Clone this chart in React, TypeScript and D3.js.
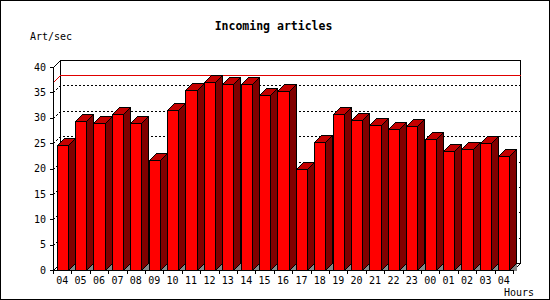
import React from "react";
import * as d3 from "d3";

const hours = ["04","05","06","07","08","09","10","11","12","13","14","15","16","17","18","19","20","21","22","23","00","01","02","03","04"];
const values = [24.6, 29.3, 28.9, 30.7, 28.9, 21.6, 31.5, 35.4, 37.0, 36.6, 36.6, 34.5, 35.2, 20.0, 25.2, 30.7, 29.5, 28.5, 27.7, 28.3, 25.9, 23.5, 23.8, 25.0, 22.5];
const yTicks = [0, 5, 10, 15, 20, 25, 30, 35, 40];
const gridValues = [5, 10, 15, 20, 25, 30, 35];
const title = "Incoming articles";
const yTitle = "Art/sec";
const xTitle = "Hours";

const W = 550, H = 300;
const L = 53, R = 513, B = 270, T = 67, D = 7;
const FONT = "'DejaVu Sans Mono', monospace";

export default function App() {
  const idx = hours.map((_, i) => i);
  const x = d3.scaleBand<number>().domain(idx).range([L, R]).padding(0);
  const y = d3.scaleLinear().domain([0, 40]).range([B, T]);
  const step = x.step();
  const p = (v: number) => Math.round(v) + 0.5;
  const maxV = d3.max(values) as number;

  const bars = values.map((v, i) => {
    const x0 = p(x(i)! + step * 0.2);
    const x1 = p(x(i)! + step * 0.8);
    const yt = p(y(v));
    const yb = p(B);
    const front = `${x0},${yt} ${x1},${yt} ${x1},${yb} ${x0},${yb}`;
    const top = `${x0},${yt} ${x0 + D},${yt - D} ${x1 + D},${yt - D} ${x1},${yt}`;
    const side = `${x1},${yt} ${x1 + D},${yt - D} ${x1 + D},${yb - D} ${x1},${yb}`;
    const shadow = `${x1},${yb} ${x1 + D},${yb - D} ${x1 + D},${yb}`;
    return { front, top, side, shadow, key: i };
  });

  return (
    <svg width={W} height={H} style={{ position: "absolute", left: 0, top: 0, background: "#fff" }} fontFamily={FONT}>
      <rect x={0.5} y={0.5} width={549} height={299} fill="#fff" stroke="#000" />
      <text x={273.5} y={30} textAnchor="middle" fontSize={11.5} fontWeight="bold">{title}</text>
      <text x={30} y={40} fontSize={10}>{yTitle}</text>

      {/* back plane */}
      <g shapeRendering="crispEdges" fill="none" stroke="#000">
        <rect x={p(L + D)} y={p(T - D)} width={R - L} height={B - T} fill="#fff" />
      </g>
      {/* grid */}
      <g fill="none" stroke="#000" strokeDasharray="2,2" shapeRendering="crispEdges">
        {gridValues.map(g => (
          <polyline key={g} points={`${p(L)},${p(y(g))} ${p(L + D)},${p(y(g) - D)} ${p(R + D)},${p(y(g) - D)}`} />
        ))}
      </g>
      {/* max line */}
      <polyline points={`${p(L)},${p(y(maxV))} ${p(L + D)},${p(y(maxV) - D)} ${p(R + D)},${p(y(maxV) - D)}`} fill="none" stroke="#e00000" shapeRendering="crispEdges" />
      {/* side/floor edges */}
      <g fill="none" stroke="#000" shapeRendering="crispEdges">
        <line x1={p(L)} y1={p(T)} x2={p(L + D)} y2={p(T - D)} />
        <line x1={p(L)} y1={p(B)} x2={p(L + D)} y2={p(B - D)} />
        <line x1={p(R)} y1={p(B)} x2={p(R + D)} y2={p(B - D)} />
      </g>

      {/* bars */}
      <g stroke="#000" strokeWidth={1} shapeRendering="crispEdges">
        {bars.map(b => (
          <g key={b.key}>
            <polygon points={b.shadow} fill="#888888" stroke="none" />
            <polygon points={b.side} fill="#800000" />
            <polygon points={b.top} fill="#c40000" />
            <polygon points={b.front} fill="#ff0000" />
          </g>
        ))}
      </g>

      {/* axes */}
      <g stroke="#000" shapeRendering="crispEdges">
        <line x1={p(L)} y1={p(T)} x2={p(L)} y2={p(B)} />
        <line x1={p(L)} y1={p(B)} x2={p(R)} y2={p(B)} />
        {yTicks.map(t => (
          <line key={t} x1={p(L) - 4} y1={p(y(t))} x2={p(L)} y2={p(y(t))} />
        ))}
        {d3.range(hours.length + 1).map(i => {
          const xx = p(L + i * step);
          return <line key={i} x1={xx} y1={p(B)} x2={xx} y2={p(B) + 3} />;
        })}
      </g>
      <g fontSize={10} textAnchor="end">
        {yTicks.map(t => (
          <text key={t} x={46} y={y(t) + 3.7}>{t}</text>
        ))}
      </g>
      <g fontSize={10} textAnchor="middle">
        {hours.map((h, i) => (
          <text key={i} x={x(i)! + step / 2} y={283.5}>{h}</text>
        ))}
      </g>
      <text x={534} y={296} fontSize={10} textAnchor="end">{xTitle}</text>
    </svg>
  );
}
